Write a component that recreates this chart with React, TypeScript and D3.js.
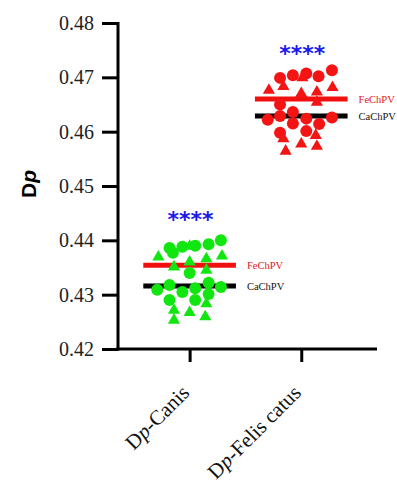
import { useEffect, useRef } from 'react';
import * as d3 from 'd3';

// categories on the x axis
const categories = ['Canis', 'Felis catus'];

// points: [horizontal jitter (in category steps), Dp value]
const canisCircles: [number, number][] = [
  [-0.18, 0.4386], [-0.065, 0.4388], [0.05, 0.439], [0.17, 0.4393], [0.28, 0.44],
  [-0.15, 0.4377], [0, 0.434], [-0.29, 0.4309], [-0.18, 0.4318], [-0.065, 0.4305],
  [0.05, 0.4312], [0.17, 0.4322], [0.28, 0.4314], [-0.18, 0.429], [0.05, 0.429],
  [0.17, 0.4301],
];
const canisTriangles: [number, number][] = [
  [-0.28, 0.4371], [0, 0.4391], [0, 0.4362], [0.15, 0.4368], [0.29, 0.4373],
  [-0.14, 0.4353], [0.15, 0.4347], [-0.14, 0.4273], [0.15, 0.4285], [0, 0.4269],
  [-0.14, 0.4255], [0.14, 0.4261],
];
const felisCircles: [number, number][] = [
  [-0.19, 0.4699], [-0.075, 0.4704], [0.045, 0.4707], [0.155, 0.4702], [0.275, 0.4713],
  [-0.19, 0.465], [-0.3, 0.4622], [-0.19, 0.4629], [-0.075, 0.4636], [0.045, 0.4624],
  [0.275, 0.4626], [-0.075, 0.4615], [0.16, 0.4614], [0.045, 0.4601], [-0.19, 0.4598],
];
const felisTriangles: [number, number][] = [
  [-0.29, 0.4678], [-0.16, 0.4685], [0, 0.4672], [0.14, 0.4675], [0.28, 0.4683],
  [0.01, 0.4701], [0.14, 0.4656], [-0.16, 0.4589], [0.13, 0.4595], [0, 0.4579],
  [-0.14, 0.4566], [0.14, 0.4575],
];

// reference lines per category
const feChPV = [0.4354, 0.466];
const caChPV = [0.4316, 0.4629];
// significance marks (value where the stars sit)
const sigLabels = ['****', '****'];
const sigValues = [0.4441, 0.4747];

const yTicks = [0.42, 0.43, 0.44, 0.45, 0.46, 0.47, 0.48];
const groupColors = ['#11e611', '#f41414'];

export default function App() {
  const ref = useRef<SVGSVGElement>(null);

  useEffect(() => {
    if (!ref.current) return;
    const W = 397, H = 484;
    const svg = d3.select(ref.current);
    svg.selectAll('*').remove();
    svg.attr('width', W).attr('height', H);

    const left = 118, right = 377, top = 23, bottom = 349;

    const x = d3.scalePoint<string>()
      .domain(categories)
      .range([left, right])
      .padding(0.66)
      .align(0.486);
    const step = x.step();

    const y = d3.scaleLinear().domain([0.42, 0.48]).range([bottom, top]);

    const serif = '"Liberation Serif", "Times New Roman", serif';

    // y axis
    const yAxis = d3.axisLeft(y)
      .tickValues(yTicks)
      .tickFormat(d3.format('.2f'))
      .tickSize(16)
      .tickSizeOuter(0)
      .tickPadding(8);
    const gy = svg.append('g').attr('transform', `translate(${left},0)`).call(yAxis);
    gy.attr('font-family', serif).attr('font-size', 20);
    gy.select('.domain').attr('stroke', '#000').attr('stroke-width', 3).attr('d', `M0,${top - 1}V${bottom + 1.5}`);
    gy.selectAll('.tick line').attr('stroke-width', 3);
    gy.selectAll('.tick text').attr('fill', '#222').style('font-family', serif);

    // x axis
    const xAxis = d3.axisBottom(x).tickSize(13).tickSizeOuter(0).tickFormat(() => '');
    const gx = svg.append('g').attr('transform', `translate(0,${bottom})`).call(xAxis);
    gx.select('.domain').attr('stroke-width', 3).attr('d', `M${left - 1.5},0H${right}`);
    gx.selectAll('.tick line').attr('stroke-width', 3);

    // rotated category labels
    categories.forEach((c) => {
      const t = svg.append('text')
        .attr('transform', `translate(${x(c)! + 1},${bottom + 45}) rotate(-45)`)
        .attr('text-anchor', 'end')
        .style('font-family', serif)
        .style('font-size', '21px')
        .attr('fill', '#111');
      t.append('tspan').text('D');
      t.append('tspan').attr('font-style', 'italic').text('p');
      t.append('tspan').text('-' + c);
    });

    // y axis title
    const yt = svg.append('text')
      .attr('transform', `translate(36,${(top + bottom) / 2 - 2}) rotate(-90)`)
      .attr('text-anchor', 'middle')
      .style('font-family', '"Liberation Sans", Arial, sans-serif')
      .style('font-size', '21px')
      .style('font-weight', 'bold');
    yt.append('tspan').attr('font-style', 'normal').text('D');
    yt.append('tspan').attr('font-style', 'italic').text('p');

    const groups = [
      { circles: canisCircles, triangles: canisTriangles },
      { circles: felisCircles, triangles: felisTriangles },
    ];

    const tri = d3.symbol().type(d3.symbolTriangle).size(64);

    groups.forEach((g, i) => {
      const cx = x(categories[i])!;
      const half = step * 0.415;

      // mean lines
      svg.append('line')
        .attr('x1', cx - half).attr('x2', cx + half)
        .attr('y1', y(feChPV[i])).attr('y2', y(feChPV[i]))
        .attr('stroke', '#f01010').attr('stroke-width', 5);
      svg.append('line')
        .attr('x1', cx - half).attr('x2', cx + half)
        .attr('y1', y(caChPV[i])).attr('y2', y(caChPV[i]))
        .attr('stroke', '#000').attr('stroke-width', 5);

      svg.append('text')
        .attr('x', cx + half + 11).attr('y', y(feChPV[i]) + 4)
        .style('font-family', serif).style('font-size', '10.5px')
        .attr('fill', '#e01818').text('FeChPV');
      svg.append('text')
        .attr('x', cx + half + 11).attr('y', y(caChPV[i]) + 4)
        .style('font-family', serif).style('font-size', '10.5px')
        .attr('fill', '#111').text('CaChPV');

      // points
      svg.append('g').selectAll('circle')
        .data(g.circles)
        .join('circle')
        .attr('cx', d => cx + d[0] * step)
        .attr('cy', d => y(d[1]))
        .attr('r', 6)
        .attr('fill', groupColors[i]);
      svg.append('g').selectAll('path')
        .data(g.triangles)
        .join('path')
        .attr('transform', d => `translate(${cx + d[0] * step},${y(d[1]) + 1})`)
        .attr('d', tri)
        .attr('fill', groupColors[i]);

      // significance stars
      svg.append('text')
        .attr('x', cx + 1).attr('y', y(sigValues[i]) + 9)
        .attr('text-anchor', 'middle')
        .style('font-family', '"DejaVu Sans", sans-serif')
        .style('font-size', '22px')
        .style('font-weight', 'bold')
        .attr('fill', '#1a1aee')
        .text(sigLabels[i]);
    });
  }, []);

  return <svg ref={ref} style={{ position: 'absolute', left: 0, top: 0 }} />;
}
